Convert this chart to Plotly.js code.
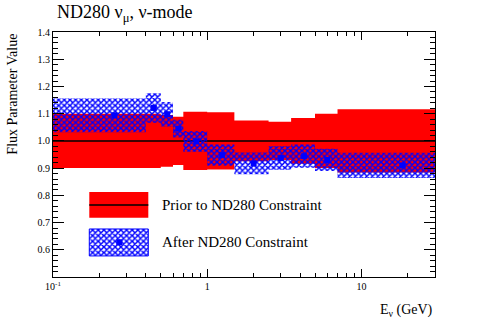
<!DOCTYPE html>
<html>
<head>
<meta charset="utf-8">
<script src="https://cdn.plot.ly/plotly-3.0.1.min.js"></script>
<style>
  html, body { margin: 0; padding: 0; background: #fff; }
  #plot { width: 483px; height: 327px; }
</style>
</head>
<body>
<div id="plot"></div>
<script>
// energy bin edges (GeV)
var binEdges = [0.1, 0.4, 0.5, 0.6, 0.7, 1.0, 1.5, 2.5, 3.5, 5.0, 7.0, 30.0];
// prior to ND280 constraint: nominal 1 with error
var priorVal = [1, 1, 1, 1, 1, 1, 1, 1, 1, 1, 1];
var priorErr = [0.100, 0.100, 0.095, 0.089, 0.107, 0.105, 0.075, 0.070, 0.084, 0.100, 0.116];
// after ND280 constraint
var postVal = [1.094, 1.121, 1.098, 1.045, 0.998, 0.948, 0.917, 0.937, 0.944, 0.930, 0.910];
var postErr = [0.062, 0.054, 0.045, 0.033, 0.038, 0.039, 0.040, 0.043, 0.043, 0.041, 0.046];

var serif = 'Liberation Serif, Times New Roman, serif';

function boxes(vals, errs) {
  var xs = [], ys = [];
  for (var i = 0; i < vals.length; i++) {
    var lo = binEdges[i], hi = binEdges[i + 1];
    var y0 = vals[i] - errs[i], y1 = vals[i] + errs[i];
    xs.push(lo, hi, hi, lo, lo, null);
    ys.push(y0, y0, y1, y1, y0, null);
  }
  return {x: xs, y: ys};
}

var centers = [];
for (var i = 0; i < postVal.length; i++) centers.push((binEdges[i] + binEdges[i + 1]) / 2);

var red = boxes(priorVal, priorErr);
var blue = boxes(postVal, postErr);
var hatch = {shape: 'x', fgcolor: '#0000ff', bgcolor: 'rgba(0,0,0,0)', size: 4, solidity: 0.6};

var data = [
  { x: red.x, y: red.y, type: 'scatter', mode: 'lines', fill: 'toself',
    fillcolor: '#ff0000', line: {width: 0, color: '#ff0000'}, hoverinfo: 'skip' },
  { x: [binEdges[0], binEdges[binEdges.length - 1]], y: [1, 1], type: 'scatter', mode: 'lines',
    line: {color: '#000', width: 1.5}, hoverinfo: 'skip' },
  { x: blue.x, y: blue.y, type: 'scatter', mode: 'lines', fill: 'toself',
    fillcolor: 'rgba(0,0,0,0)', fillpattern: hatch, line: {width: 0, color: 'rgba(0,0,0,0)'}, hoverinfo: 'skip' },
  { x: centers, y: postVal, type: 'scatter', mode: 'markers',
    marker: {symbol: 'square', size: 6, color: '#0000ff'} },
  // legend glyphs on a hidden unit axis
  { x: [0.095, 0.2495, 0.2495, 0.095, 0.095], y: [0.242, 0.242, 0.347, 0.347, 0.242],
    xaxis: 'x2', yaxis: 'y2', type: 'scatter', mode: 'lines', fill: 'toself',
    fillcolor: '#ff0000', line: {width: 0}, hoverinfo: 'skip' },
  { x: [0.095, 0.2495], y: [0.294, 0.294], xaxis: 'x2', yaxis: 'y2', type: 'scatter', mode: 'lines',
    line: {color: '#000', width: 1.5}, hoverinfo: 'skip' },
  { x: [0.095, 0.2495, 0.2495, 0.095, 0.095], y: [0.086, 0.086, 0.196, 0.196, 0.086],
    xaxis: 'x2', yaxis: 'y2', type: 'scatter', mode: 'lines', fill: 'toself',
    fillcolor: 'rgba(0,0,0,0)', fillpattern: hatch, line: {width: 1, color: '#0000ff'}, hoverinfo: 'skip' },
  { x: [0.1736], y: [0.1416], xaxis: 'x2', yaxis: 'y2', type: 'scatter', mode: 'markers',
    marker: {symbol: 'square', size: 6, color: '#0000ff'}, hoverinfo: 'skip' }
];

var layout = {
  width: 483, height: 327,
  margin: {l: 53, r: 48, t: 32, b: 50},
  paper_bgcolor: '#fff', plot_bgcolor: '#fff',
  showlegend: false,
  font: {family: serif, color: '#000', size: 10},
  title: {text: 'ND280 ν<sub>μ</sub>, ν-mode', font: {family: serif, size: 18, color: '#000'},
          xref: 'container', x: 0.118, xanchor: 'left', yref: 'container', y: 0.963, yanchor: 'middle'},
  xaxis: {
    type: 'log', range: [-1, Math.log10(30)],
    showgrid: false, zeroline: false,
    showline: true, linecolor: '#000', linewidth: 1, mirror: 'ticks',
    ticks: 'inside', ticklen: 8, tickcolor: '#000',
    tickmode: 'array', tickvals: [0.1, 1, 10], ticktext: ['10<sup>-1</sup>', '1', '10'],
    tickfont: {family: serif, size: 10, color: '#000'},
    minor: {ticks: 'inside', ticklen: 4, tickcolor: '#000', tickmode: 'array',
            tickvals: [0.2, 0.3, 0.4, 0.5, 0.6, 0.7, 0.8, 0.9, 2, 3, 4, 5, 6, 7, 8, 9, 20, 30]}
  },
  yaxis: {
    range: [0.5, 1.4],
    showgrid: false, zeroline: false,
    showline: true, linecolor: '#000', linewidth: 1, mirror: 'ticks',
    ticks: 'inside', ticklen: 11, tickcolor: '#000',
    tickmode: 'array', tickvals: [0.6, 0.7, 0.8, 0.9, 1.0, 1.1, 1.2, 1.3, 1.4],
    ticktext: ['0.6', '0.7', '0.8', '0.9', '1.0', '1.1', '1.2', '1.3', '1.4'],
    tickfont: {family: serif, size: 10, color: '#000'},
    minor: {ticks: 'inside', ticklen: 5, tickcolor: '#000', dtick: 0.02, tick0: 0.5}
  },
  xaxis2: {overlaying: 'x', range: [0, 1], visible: false, fixedrange: true},
  yaxis2: {overlaying: 'y', range: [0, 1], visible: false, fixedrange: true},
  annotations: [
    {text: 'Flux Parameter Value', textangle: -90, xref: 'paper', yref: 'paper',
     x: -0.107, y: 1.0, xanchor: 'center', yanchor: 'top', showarrow: false,
     font: {family: serif, size: 14, color: '#000'}},
    {text: 'E<sub>ν</sub> (GeV)', xref: 'paper', yref: 'paper', x: 1.0, y: -0.135,
     xanchor: 'right', yanchor: 'middle', showarrow: false,
     font: {family: serif, size: 14, color: '#000'}},
    {text: 'Prior to ND280 Constraint', xref: 'paper', yref: 'paper', x: 0.28, y: 0.294,
     xanchor: 'left', yanchor: 'middle', showarrow: false,
     font: {family: serif, size: 15, color: '#000'}},
    {text: 'After ND280 Constraint', xref: 'paper', yref: 'paper', x: 0.28, y: 0.143,
     xanchor: 'left', yanchor: 'middle', showarrow: false,
     font: {family: serif, size: 15, color: '#000'}}
  ]
};

Plotly.newPlot('plot', data, layout, {displayModeBar: false, staticPlot: true});
</script>
</body>
</html>
